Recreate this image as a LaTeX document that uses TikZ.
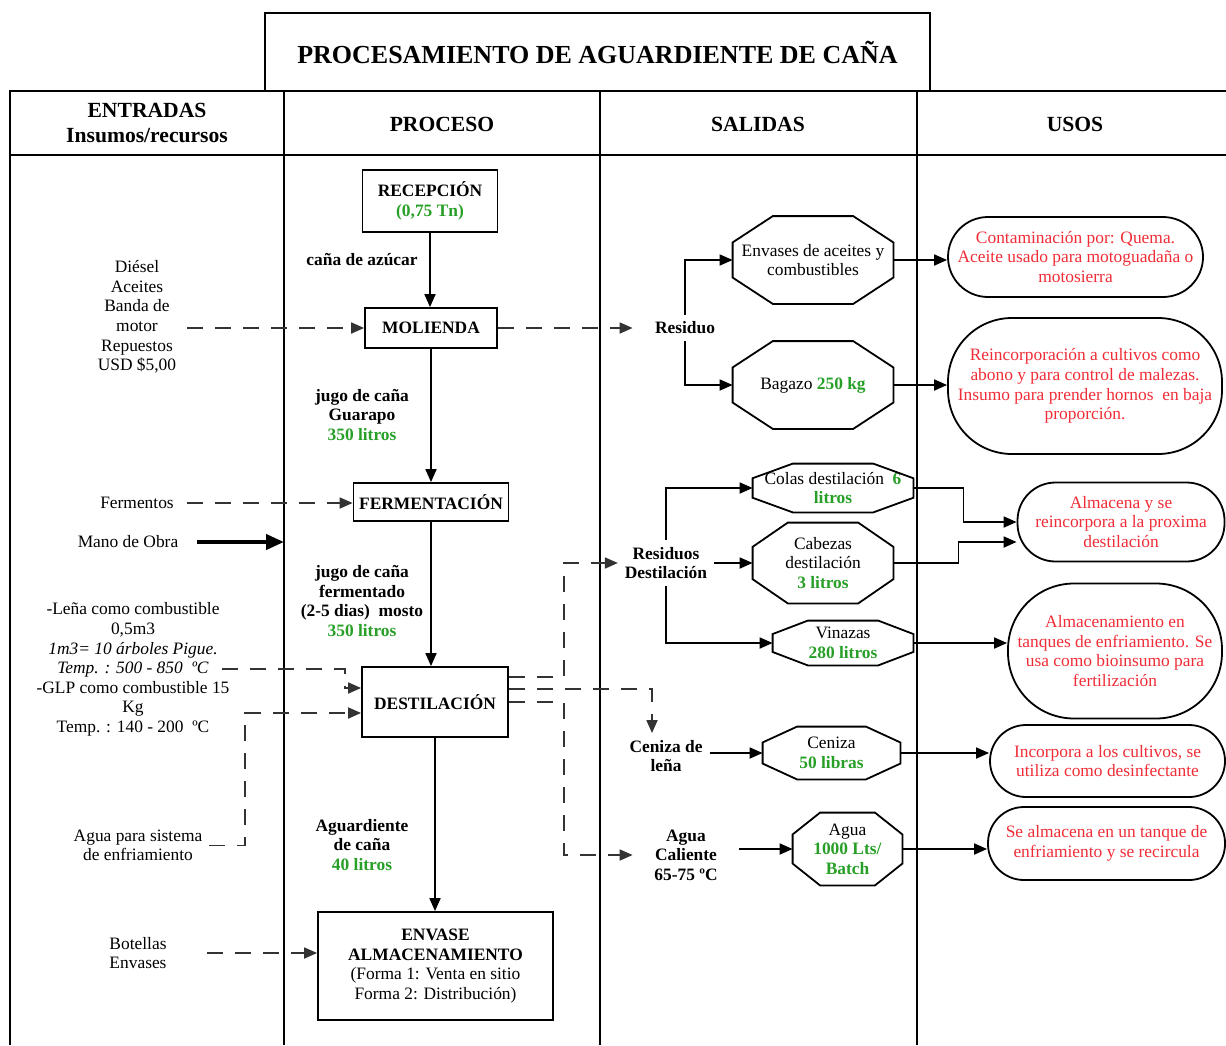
\documentclass[tikz,border=0pt]{standalone}
\usepackage{fontspec}
\setmainfont{Liberation Serif}
\definecolor{cngreen}{RGB}{40,160,40}
\definecolor{cnred}{RGB}{240,45,55}
\usetikzlibrary{arrows.meta,calc}
\newcommand{\bodyfont}{\fontsize{8.7}{9.8}\selectfont}
\newcommand{\qty}[1]{\textcolor{cngreen}{\textbf{#1}}}

\begin{document}
\begin{tikzpicture}[x=0.5pt,y=-0.5pt,font=\bodyfont,
  procbox/.style={draw, line width=0.9pt, align=center, inner sep=1pt, font=\bodyfont\bfseries},
  lbl/.style={align=center, font=\bodyfont\bfseries},
  txt/.style={align=center},
  octo/.style={align=center, inner sep=0pt},
  usebox/.style={draw, line width=0.9pt, align=center, inner sep=1pt, text=cnred},
  flow/.style={line width=0.9pt, -{Triangle[length=6.5pt,width=5.5pt]}},
  inflow/.style={flow, black!80, dash pattern=on 8pt off 6pt}]
  \useasboundingbox (0,0) rectangle (1226,1045);
  % Title
  \node[draw, line width=0.9pt, minimum width=332.5pt, minimum height=39pt,
        font=\fontsize{13}{15}\selectfont\bfseries] (title) at (597.5,52) {PROCESAMIENTO DE AGUARDIENTE DE CAÑA};
  % Table frame
  \draw[line width=1.1pt] (10,1045) -- (10,91) -- (1226,91);
  \draw[line width=1.1pt] (10,155) -- (1226,155);
  \foreach \x in {284,600,917}
    \draw[line width=1.1pt] (\x,91) -- (\x,1045);
  % Column headers
  \node[font=\fontsize{10.8}{12.5}\selectfont\bfseries, align=center] (hin) at (147,123) {ENTRADAS\\Insumos/recursos};
  \node[font=\fontsize{10.8}{12.5}\selectfont\bfseries] (hproc) at (442,124) {PROCESO};
  \node[font=\fontsize{10.8}{12.5}\selectfont\bfseries] (hout) at (758,124) {SALIDAS};
  \node[font=\fontsize{10.8}{12.5}\selectfont\bfseries] (huse) at (1075,124) {USOS};

  % Process steps
  \node[procbox, minimum width=67.5pt, minimum height=31pt] (recep) at (430,201) {RECEPCIÓN\\\textcolor{cngreen}{(0,75 Tn)}};
  \node[procbox, minimum width=66pt, minimum height=20pt] (moli) at (431,328) {MOLIENDA};
  \node[procbox, minimum width=77.5pt, minimum height=19pt] (ferm) at (431,502) {FERMENTACIÓN};
  \node[procbox, minimum width=73pt, minimum height=35pt] (dest) at (435,702) {DESTILACIÓN};
  \node[procbox, minimum width=117.5pt, minimum height=54pt] (env) at (435.5,966)
    {ENVASE\\ALMACENAMIENTO\\\mdseries(Forma 1: Venta en sitio\\\mdseries Forma 2: Distribución)};
  \draw[flow] (recep.south) -- (recep.south |- moli.north);
  \draw[flow] (moli.south) -- (moli.south |- ferm.north);
  \draw[flow] (ferm.south) -- (ferm.south |- dest.north);
  \draw[flow] (dest.south) -- (dest.south |- env.north);
  % Process labels
  \node[lbl] (l1) at (362,260) {caña de azúcar};
  \node[lbl] (l2) at (362,415) {jugo de caña\\Guarapo\\\qty{350 litros}};
  \node[lbl] (l3) at (362,601) {jugo de caña\\fermentado\\(2-5 dias)\ \ mosto\\\qty{350 litros}};
  \node[lbl] (l4) at (362,845) {Aguardiente\\de caña\\\qty{40 litros}};

  % Inputs
  \node[txt, minimum width=50pt] (diesel) at (137,317) {Diésel\\Aceites\\Banda de\\motor\\Repuestos\\USD \$5,00};
  \node[txt, minimum width=50pt] (fermentos) at (137,503) {Fermentos};
  \node[txt, minimum width=69pt] (mano) at (128,542) {Mano de Obra};
  \node[txt] (lena) at (133,669.5) {-Leña como combustible\\0,5m3\\\textit{1m3= 10 árboles Pigue.}\\
    \textit{Temp. : 500 - 850\ \ ºC}\\-GLP como combustible 15\\Kg\\Temp. : 140 - 200\ \ ºC};
  \node[txt, minimum width=69pt] (aguain) at (138,845.5) {Agua para sistema\\de enfriamiento};
  \node[txt, minimum width=69pt] (botellas) at (138,953) {Botellas\\Envases};
  \coordinate (lenaout) at (222,669);
  \coordinate (manoend) at (284,542);
  \draw[inflow] (diesel.east |- moli.west) -- (moli.west);
  \draw[inflow] (fermentos.east) -- (fermentos.east -| ferm.west);
  \draw[line width=2pt, -{Triangle[length=9pt,width=7.5pt]}] (mano.east) -- (manoend);
  \draw[inflow] (lenaout) -- (345,669) -- (345,688) -- ([yshift=7pt]dest.west);
  \draw[inflow] (aguain.east) -- (245,845.5) -- (245,713) -- ([yshift=-5.5pt]dest.west);
  \draw[inflow] (botellas.east) -- (botellas.east -| env.west);

  % Outputs
  \node[lbl, minimum width=52pt] (residuo) at (685,328) {Residuo};
  \node[lbl] (resid) at (666,563) {Residuos\\Destilación};
  \node[lbl] (cenlena) at (666,756) {Ceniza de\\leña};
  \node[lbl, minimum width=53pt] (aguacal) at (686,855) {Agua\\Caliente\\65-75 ºC};
  \node[octo, minimum width=80pt, minimum height=43.5pt] (envases) at (813,260) {Envases de aceites y\\combustibles};
  \node[octo, minimum width=80pt, minimum height=43.5pt] (bagazo) at (813,385) {Bagazo \qty{250 kg}};
  \node[octo, minimum width=80pt, minimum height=24pt] (colas) at (833,488) {Colas destilación\ \ \qty{6}\\\qty{litros}};
  \node[octo, minimum width=70pt, minimum height=40pt] (cabezas) at (823,563) {Cabezas\\destilación\\\qty{3 litros}};
  \node[octo, minimum width=70pt, minimum height=22pt] (vinazas) at (843,643) {Vinazas\\\qty{280 litros}};
  \node[octo, minimum width=68.5pt, minimum height=26pt] (ceniza) at (831.5,753) {Ceniza\\\qty{50 libras}};
  \node[octo, minimum width=54.5pt, minimum height=36pt] (aguaout) at (847.5,849) {Agua\\\qty{1000 Lts/}\\\qty{Batch}};
  \foreach \n in {envases,bagazo,colas,cabezas,vinazas,ceniza,aguaout}
    \draw[line width=0.9pt] ($(\n.north west)!.25!(\n.north east)$) -- ($(\n.north west)!.75!(\n.north east)$)
      -- ($(\n.north east)!.3!(\n.south east)$) -- ($(\n.north east)!.7!(\n.south east)$)
      -- ($(\n.south west)!.75!(\n.south east)$) -- ($(\n.south west)!.25!(\n.south east)$)
      -- ($(\n.north west)!.7!(\n.south west)$) -- ($(\n.north west)!.3!(\n.south west)$) -- cycle;
  \draw[inflow] (moli.east) -- (residuo.west);
  \draw[flow] (residuo.north) |- (envases.west);
  \draw[flow] (residuo.south) |- (bagazo.west);
  \draw[inflow] ([yshift=12.5pt]dest.east) -- ++(27.5pt,0) |- (resid.west);
  \draw[inflow] ([yshift=6.5pt]dest.east) -| ([xshift=-7pt]cenlena.north);
  \draw[inflow] (dest.east) -- ++(27.5pt,0) |- (aguacal.west);
  \draw[flow] (resid.north) |- (colas.west);
  \draw[flow] (resid.east) -- (resid.east -| cabezas.west);
  \draw[flow] (resid.south) |- (vinazas.west);
  \draw[flow] (cenlena.east |- ceniza.west) -- (ceniza.west);
  \draw[flow] (aguacal.east |- aguaout.west) -- (aguaout.west);

  % Uses
  \node[usebox, minimum width=127.5pt, minimum height=40pt, rounded corners=20pt] (cont) at (1075.5,257)
    {Contaminación por: Quema.\\Aceite usado para motoguadaña o\\motosierra};
  \node[usebox, minimum width=137pt, minimum height=68pt, rounded corners=32pt] (reinc) at (1085,386)
    {Reincorporación a cultivos como\\abono y para control de malezas.\\Insumo para prender hornos\ \ en baja\\proporción.};
  \node[usebox, minimum width=103.5pt, minimum height=39.5pt, rounded corners=19pt] (alm) at (1121,522)
    {Almacena y se\\reincorpora a la proxima\\destilación};
  \node[usebox, minimum width=107pt, minimum height=67.5pt, rounded corners=33pt] (tanq) at (1115,651)
    {Almacenamiento en\\tanques de enfriamiento. Se\\usa como bioinsumo para\\fertilización};
  \node[usebox, minimum width=117.5pt, minimum height=36pt, rounded corners=18pt] (incorp) at (1107.5,761)
    {Incorpora a los cultivos, se\\utiliza como desinfectante};
  \node[usebox, minimum width=118.5pt, minimum height=36.5pt, rounded corners=18pt] (recirc) at (1106.5,843.5)
    {Se almacena en un tanque de\\enfriamiento y se recircula};
  \draw[flow] (envases.east) -- (envases.east -| cont.west);
  \draw[flow] (bagazo.east) -- (bagazo.east -| reinc.west);
  \draw[flow] (colas.east) -- ++(25pt,0) |- (alm.west);
  \draw[flow] (cabezas.east) -- ++(32.5pt,0) |- ([yshift=-10pt]alm.west);
  \draw[flow] (vinazas.east) -- (vinazas.east -| tanq.west);
  \draw[flow] (ceniza.east) -- (ceniza.east -| incorp.west);
  \draw[flow] (aguaout.east) -- (aguaout.east -| recirc.west);
\end{tikzpicture}
\end{document}
